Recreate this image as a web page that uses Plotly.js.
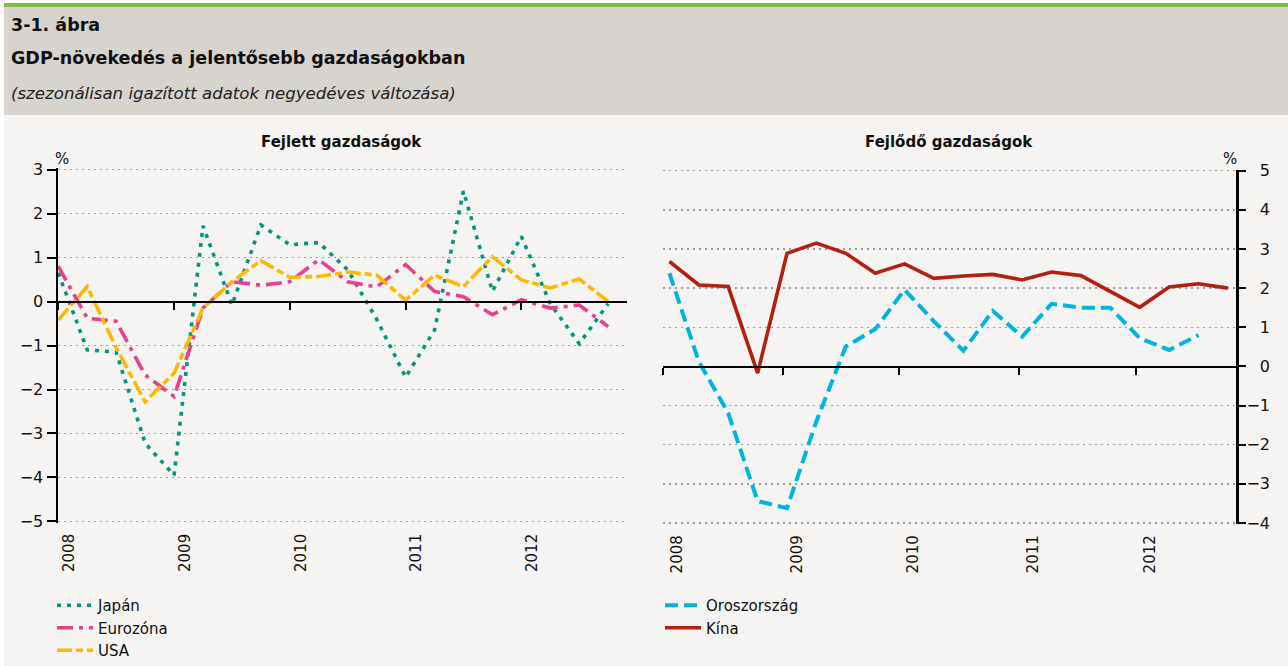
<!DOCTYPE html>
<html>
<head>
<meta charset="utf-8">
<script src="https://cdn.plot.ly/plotly-3.0.1.min.js"></script>
<style>
  html, body { margin: 0; padding: 0; background: #ffffff; }
  #chart { width: 1288px; height: 666px; }
</style>
</head>
<body>
<div id="chart"></div>
<script>
// ---- data (quarterly, 2008 Q1 .. 2012 Q4) ----
const quarterIdx = [0, 1, 2, 3, 4, 5, 6, 7, 8, 9, 10, 11, 12, 13, 14, 15, 16, 17, 18, 19];
const yearLabels = ['2008', '2009', '2010', '2011', '2012'];

const japan    = [0.65, -1.10, -1.15, -3.22, -3.95, 1.72, -0.08, 1.74, 1.29, 1.34, 0.72, -0.40, -1.72, -0.65, 2.51, 0.23, 1.48, -0.05, -0.96, -0.05];
const eurozone = [0.80, -0.38, -0.45, -1.67, -2.16, -0.15, 0.45, 0.37, 0.45, 0.95, 0.45, 0.33, 0.84, 0.23, 0.11, -0.30, 0.04, -0.15, -0.08, -0.57];
const usa      = [-0.42, 0.34, -1.05, -2.28, -1.63, -0.15, 0.45, 0.93, 0.55, 0.57, 0.67, 0.60, 0.03, 0.60, 0.34, 1.02, 0.49, 0.31, 0.51, 0.00];

const russia   = [2.38, 0.12, -1.19, -3.44, -3.62, -1.40, 0.51, 0.95, 1.96, 1.15, 0.40, 1.42, 0.76, 1.60, 1.50, 1.50, 0.72, 0.42, 0.80, null];
const china    = [2.68, 2.08, 2.04, -0.17, 2.89, 3.15, 2.89, 2.38, 2.62, 2.25, 2.31, 2.35, 2.21, 2.41, 2.32, 1.91, 1.51, 2.03, 2.11, 2.00];

// ---- geometry helpers (pixels -> paper fractions) ----
const W = 1288, H = 666;
const fx = p => p / W;
const fy = p => 1 - p / H;

const FONT = 'DejaVu Sans, Verdana, sans-serif';
const GRID = '#9c9c9c';

const leftTicks = [0, 4, 8, 12, 16];
const rightTicks = [-0.224, 3.857, 7.823, 11.9, 15.87];

const traces = [
  { name: 'Japán', x: quarterIdx, y: japan, xaxis: 'x', yaxis: 'y', type: 'scatter', mode: 'lines',
    line: { color: '#009682', width: 3.6, dash: '4px,6px' }, legend: 'legend' },
  { name: 'Eurozóna', x: quarterIdx, y: eurozone, xaxis: 'x', yaxis: 'y', type: 'scatter', mode: 'lines',
    line: { color: '#e8408f', width: 3.6, dash: '16px,6px,4px,6px' }, legend: 'legend' },
  { name: 'USA', x: quarterIdx, y: usa, xaxis: 'x', yaxis: 'y', type: 'scatter', mode: 'lines',
    line: { color: '#ffb800', width: 3.6, dash: '15px,4px,7px,4px' }, legend: 'legend' },
  { name: 'Oroszország', x: quarterIdx, y: russia, xaxis: 'x2', yaxis: 'y2', type: 'scatter', mode: 'lines',
    line: { color: '#00b4e1', width: 4, dash: '13px,6px' }, legend: 'legend2' },
  { name: 'Kína', x: quarterIdx, y: china, xaxis: 'x2', yaxis: 'y2', type: 'scatter', mode: 'lines',
    line: { color: '#b42010', width: 3.6 }, legend: 'legend2' },
  // empty helper traces so the overlay axes (zero-line axes and right label axis) get drawn
  { x: [], y: [], xaxis: 'x3', yaxis: 'y', type: 'scatter', mode: 'lines', showlegend: false, hoverinfo: 'skip' },
  { x: [], y: [], xaxis: 'x4', yaxis: 'y2', type: 'scatter', mode: 'lines', showlegend: false, hoverinfo: 'skip' },
  { x: [], y: [], xaxis: 'x2', yaxis: 'y3', type: 'scatter', mode: 'lines', showlegend: false, hoverinfo: 'skip' }
];

const tickFont = { family: FONT, size: 16, color: '#111' };
const xLabelFont = { family: FONT, size: 15, color: '#111' };

const layout = {
  width: W, height: H,
  margin: { l: 0, r: 0, t: 0, b: 0, pad: 0, autoexpand: false },
  paper_bgcolor: '#f5f4f2',
  plot_bgcolor: 'rgba(0,0,0,0)',
  font: { family: FONT, size: 15, color: '#111' },
  showlegend: true,

  // ----- left panel -----
  xaxis: {
    domain: [fx(58), fx(626.7)], range: [-0.01, 19.64], anchor: 'y',
    showgrid: false, zeroline: false, showline: false, ticks: '',
    tickmode: 'array', tickvals: leftTicks, ticktext: yearLabels,
    tickangle: -90, tickfont: xLabelFont, ticklabelshift: 11, ticklabelstandoff: 7
  },
  xaxis3: {
    overlaying: 'x', anchor: 'free', position: fy(301.5), side: 'bottom',
    range: [-0.01, 19.64], showgrid: false, zeroline: false,
    showline: true, linecolor: '#000', linewidth: 2.5,
    ticks: 'outside', ticklen: 7, tickwidth: 2, tickcolor: '#000',
    tickmode: 'array', tickvals: leftTicks, showticklabels: false
  },
  yaxis: {
    domain: [fy(522.8), fy(168.2)], range: [-5.03, 3.03], anchor: 'x',
    dtick: 1, tick0: 0, showline: true, linecolor: '#000', linewidth: 2.5,
    ticks: 'outside', ticklen: 9, tickwidth: 2, tickcolor: '#000',
    showgrid: true, gridcolor: GRID, gridwidth: 1.5, griddash: '2px,4px',
    zeroline: false, tickfont: tickFont
  },

  // ----- right panel -----
  xaxis2: {
    domain: [fx(662.7), fx(1236)], range: [-0.23, 19.276], anchor: 'y2',
    showgrid: false, zeroline: false, showline: false, ticks: '',
    tickmode: 'array', tickvals: rightTicks, ticktext: yearLabels,
    tickangle: -90, tickfont: xLabelFont, ticklabelshift: 14, ticklabelstandoff: 7
  },
  xaxis4: {
    overlaying: 'x2', anchor: 'free', position: fy(366.5), side: 'bottom',
    range: [-0.23, 19.276], showgrid: false, zeroline: false,
    showline: true, linecolor: '#000', linewidth: 2.5,
    ticks: 'outside', ticklen: 7, tickwidth: 2, tickcolor: '#000',
    tickmode: 'array', tickvals: rightTicks, showticklabels: false
  },
  yaxis2: {
    domain: [fy(524.2), fy(169.5)], range: [-4.03, 5.03], anchor: 'x2', side: 'right',
    dtick: 1, tick0: 0, showline: true, linecolor: '#000', linewidth: 2.5,
    ticks: 'outside', ticklen: 7, tickwidth: 2, tickcolor: '#000',
    showgrid: true, gridcolor: GRID, gridwidth: 1.5, griddash: '2px,4px',
    zeroline: false, showticklabels: false
  },
  yaxis3: {
    overlaying: 'y2', anchor: 'free', position: fx(1270), side: 'left',
    range: [-4.03, 5.03], dtick: 1, tick0: 0, showline: false, ticks: '',
    showgrid: false, zeroline: false, tickfont: tickFont
  },

  legend: {
    x: fx(52), y: fy(589), xanchor: 'left', yanchor: 'top',
    bgcolor: 'rgba(0,0,0,0)', font: { family: FONT, size: 15, color: '#111' },
    tracegroupgap: 0, itemwidth: 36
  },
  legend2: {
    x: fx(660), y: fy(589), xanchor: 'left', yanchor: 'top',
    bgcolor: 'rgba(0,0,0,0)', font: { family: FONT, size: 15, color: '#111' },
    tracegroupgap: 0, itemwidth: 36
  },

  shapes: [
    { type: 'rect', xref: 'paper', yref: 'paper', x0: 0, x1: fx(4), y0: 0, y1: 1, fillcolor: '#ffffff', line: { width: 0 }, layer: 'below' },
    { type: 'rect', xref: 'paper', yref: 'paper', x0: fx(4), x1: 1, y0: fy(3), y1: 1, fillcolor: '#ffffff', line: { width: 0 }, layer: 'below' },
    { type: 'rect', xref: 'paper', yref: 'paper', x0: fx(4), x1: 1, y0: fy(7), y1: fy(3), fillcolor: '#7cbf3e', line: { width: 0 }, layer: 'below' },
    { type: 'rect', xref: 'paper', yref: 'paper', x0: fx(4), x1: 1, y0: fy(115), y1: fy(7), fillcolor: '#d7d3cf', line: { width: 0 }, layer: 'below' }
  ],

  annotations: [
    { text: '<b>3-1. ábra</b>', xref: 'paper', yref: 'paper', x: fx(9), y: fy(25), xanchor: 'left', yanchor: 'middle',
      showarrow: false, font: { family: FONT, size: 17.5, color: '#111' } },
    { text: '<b>GDP-növekedés a jelentősebb gazdaságokban</b>', xref: 'paper', yref: 'paper', x: fx(9), y: fy(58), xanchor: 'left', yanchor: 'middle',
      showarrow: false, font: { family: FONT, size: 17.5, color: '#111' } },
    { text: '<i>(szezonálisan igazított adatok negyedéves változása)</i>', xref: 'paper', yref: 'paper', x: fx(9), y: fy(93), xanchor: 'left', yanchor: 'middle',
      showarrow: false, font: { family: FONT, size: 16.6, color: '#222' } },
    { text: '<b>Fejlett gazdaságok</b>', xref: 'paper', yref: 'paper', x: fx(341.7), y: fy(141.7), xanchor: 'center', yanchor: 'middle',
      showarrow: false, font: { family: FONT, size: 15, color: '#111' } },
    { text: '<b>Fejlődő gazdaságok</b>', xref: 'paper', yref: 'paper', x: fx(949), y: fy(141.7), xanchor: 'center', yanchor: 'middle',
      showarrow: false, font: { family: FONT, size: 15, color: '#111' } },
    { text: '%', xref: 'paper', yref: 'paper', x: fx(62), y: fy(159), xanchor: 'center', yanchor: 'middle',
      showarrow: false, font: { family: FONT, size: 15, color: '#111' } },
    { text: '%', xref: 'paper', yref: 'paper', x: fx(1230), y: fy(159), xanchor: 'center', yanchor: 'middle',
      showarrow: false, font: { family: FONT, size: 15, color: '#111' } }
  ]
};

Plotly.newPlot('chart', traces, layout, { displayModeBar: false, staticPlot: true });
</script>
</body>
</html>
